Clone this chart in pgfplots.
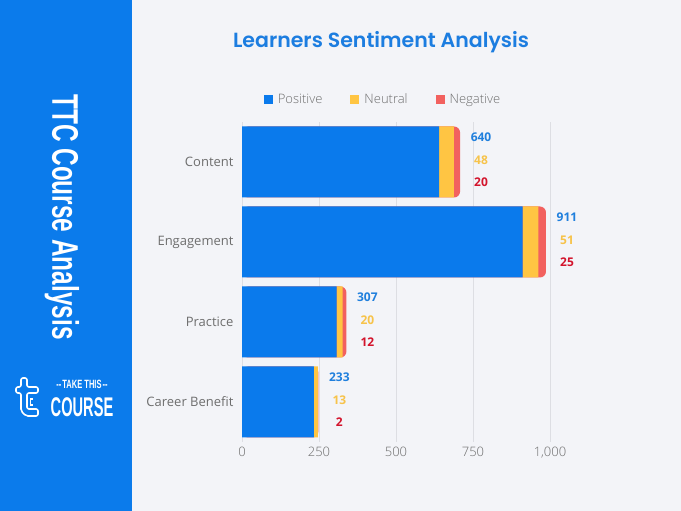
\documentclass[border=0pt]{standalone}
\usepackage{pgfplots}
\pgfplotsset{compat=1.18}
\usepackage{pgfplotstable}
\usepackage{fontspec}
\setmainfont{Open Sans}
\IfFontExistsTF{Poppins SemiBold}{\newfontfamily\titlefont{Poppins SemiBold}}{\newfontfamily\titlefont{Poppins}[UprightFont=*-Bold]}
\IfFontExistsTF{Open Sans Light}{\newfontfamily\lightfont{Open Sans Light}}{\newfontfamily\lightfont{Open Sans}}
\newfontfamily\condfont{Liberation Sans}[FakeStretch=0.66]

\definecolor{panelbg}{HTML}{F3F4F8}
\definecolor{sidebar}{HTML}{0B7BEB}
\definecolor{cpos}{HTML}{0A7AEC}
\definecolor{cneu}{HTML}{FFC543}
\definecolor{cneg}{HTML}{F2615F}
\definecolor{lpos}{HTML}{1F7FDD}
\definecolor{lneu}{HTML}{F7C34A}
\definecolor{lneg}{HTML}{D3142C}
\definecolor{titleblue}{HTML}{1C7DE0}
\definecolor{tickgray}{HTML}{6E6E6E}
\definecolor{gridgray}{HTML}{DDDEE3}

% sentiment counts per area (idx 3 = top row)
\pgfplotstableread{
idx pos neu neg total
3 640 48 20 708
2 911 51 25 987
1 307 20 12 339
0 233 13 2 248
}\sentiment

\pgfplotsset{panel/.style={
  at={(242pt,69pt)}, anchor=south west,
  scale only axis, width=308pt, height=320pt,
  xmin=0, xmax=1000, ymin=-0.5, ymax=3.5, clip=false}}

\begin{document}
\begin{tikzpicture}[x=1pt,y=1pt]
\fill[panelbg] (0,0) rectangle (681,511);
\fill[sidebar] (0,0) rectangle (132,511);
\useasboundingbox (0,0) rectangle (681,511);

% side panel
\node[rotate=-90, text=white, font=\condfont\bfseries\fontsize{37}{37}\selectfont] at (62,294) {TTC Course Analysis};
\node[text=white, font=\condfont\bfseries\fontsize{12}{12}\selectfont] at (82,127) {\scalebox{0.95}[1]{--\kern1pt TAKE THIS\kern1pt --}};
\node[text=white, font=\condfont\bfseries\fontsize{27}{27}\selectfont] at (82,104) {\scalebox{0.82}[1]{COURSE}};
\draw[white, line width=1.6pt, rounded corners=2pt]
  (21,133) -- (27,133) -- (27,124) -- (38,124) -- (38,118) -- (27,118)
  -- (27,102) -- (38,102) -- (38,95) -- (26,95) -- (21,100) -- (21,118)
  -- (16,118) -- (16,124) -- (21,124) -- cycle;
\draw[white, line width=1.4pt] (33,112) -- (30.5,112) -- (30.5,106) -- (33,106);

\node[text=titleblue, font=\titlefont\fontsize{20.5}{20.5}\selectfont] at (381,469) {Learners Sentiment Analysis};

% grid, tick labels and the rounded red end of each bar
\begin{axis}[panel,
  xbar, bar width=71pt,
  xtick={0,250,500,750,1000}, xticklabels={0,250,500,750,{1,000}},
  ytick={0,1,2,3}, yticklabels={Career Benefit,Practice,Engagement,Content},
  xmajorgrids, grid style={gridgray, line width=0.8pt},
  axis line style={draw=none}, major tick length=0pt,
  tick label style={font=\fontsize{13}{13}\selectfont, text=tickgray},
  xticklabel style={font=\lightfont\fontsize{13}{13}\selectfont, yshift=-2pt},
  yticklabel style={xshift=-5pt},
]
\addplot[fill=cneg, draw=none, rounded corners=6pt] table[x=total, y=idx] {\sentiment};
\end{axis}

% positive and neutral stacked on top
\begin{axis}[panel, hide axis,
  xbar stacked, bar width=71pt,
  legend columns=3,
  legend image code/.code={\fill[#1] (0pt,-4.5pt) rectangle (9pt,4.5pt);},
  legend style={at={(0.458,1.07)}, anchor=center, draw=none, fill=none,
    font=\lightfont\fontsize{13}{13}\selectfont, text=tickgray,
    /tikz/every odd column/.append style={column sep=3pt},
    /tikz/every even column/.append style={column sep=26pt}},
]
\addplot[fill=cpos, draw=none] table[x=pos, y=idx] {\sentiment};
\addlegendentry{Positive}
\addplot[fill=cneu, draw=none] table[x=neu, y=idx] {\sentiment};
\addlegendentry{Neutral}
\addlegendimage{fill=cneg, draw=none}
\addlegendentry{Negative}
\end{axis}

% value labels beside each bar
\begin{axis}[panel, hide axis,
  nodes near coords, point meta=explicit symbolic,
]
\addplot[draw=none, mark=none, nodes near coords style={anchor=center, xshift=21pt, yshift=25pt, text=lpos, font=\bfseries\fontsize{12}{12}\selectfont}] table[x=total, y=idx, meta=pos] {\sentiment};
\addplot[draw=none, mark=none, nodes near coords style={anchor=center, xshift=21pt, yshift=2pt, text=lneu, font=\bfseries\fontsize{12}{12}\selectfont}] table[x=total, y=idx, meta=neu] {\sentiment};
\addplot[draw=none, mark=none, nodes near coords style={anchor=center, xshift=21pt, yshift=-20pt, text=lneg, font=\bfseries\fontsize{12}{12}\selectfont}] table[x=total, y=idx, meta=neg] {\sentiment};
\end{axis}
\end{tikzpicture}
\end{document}
